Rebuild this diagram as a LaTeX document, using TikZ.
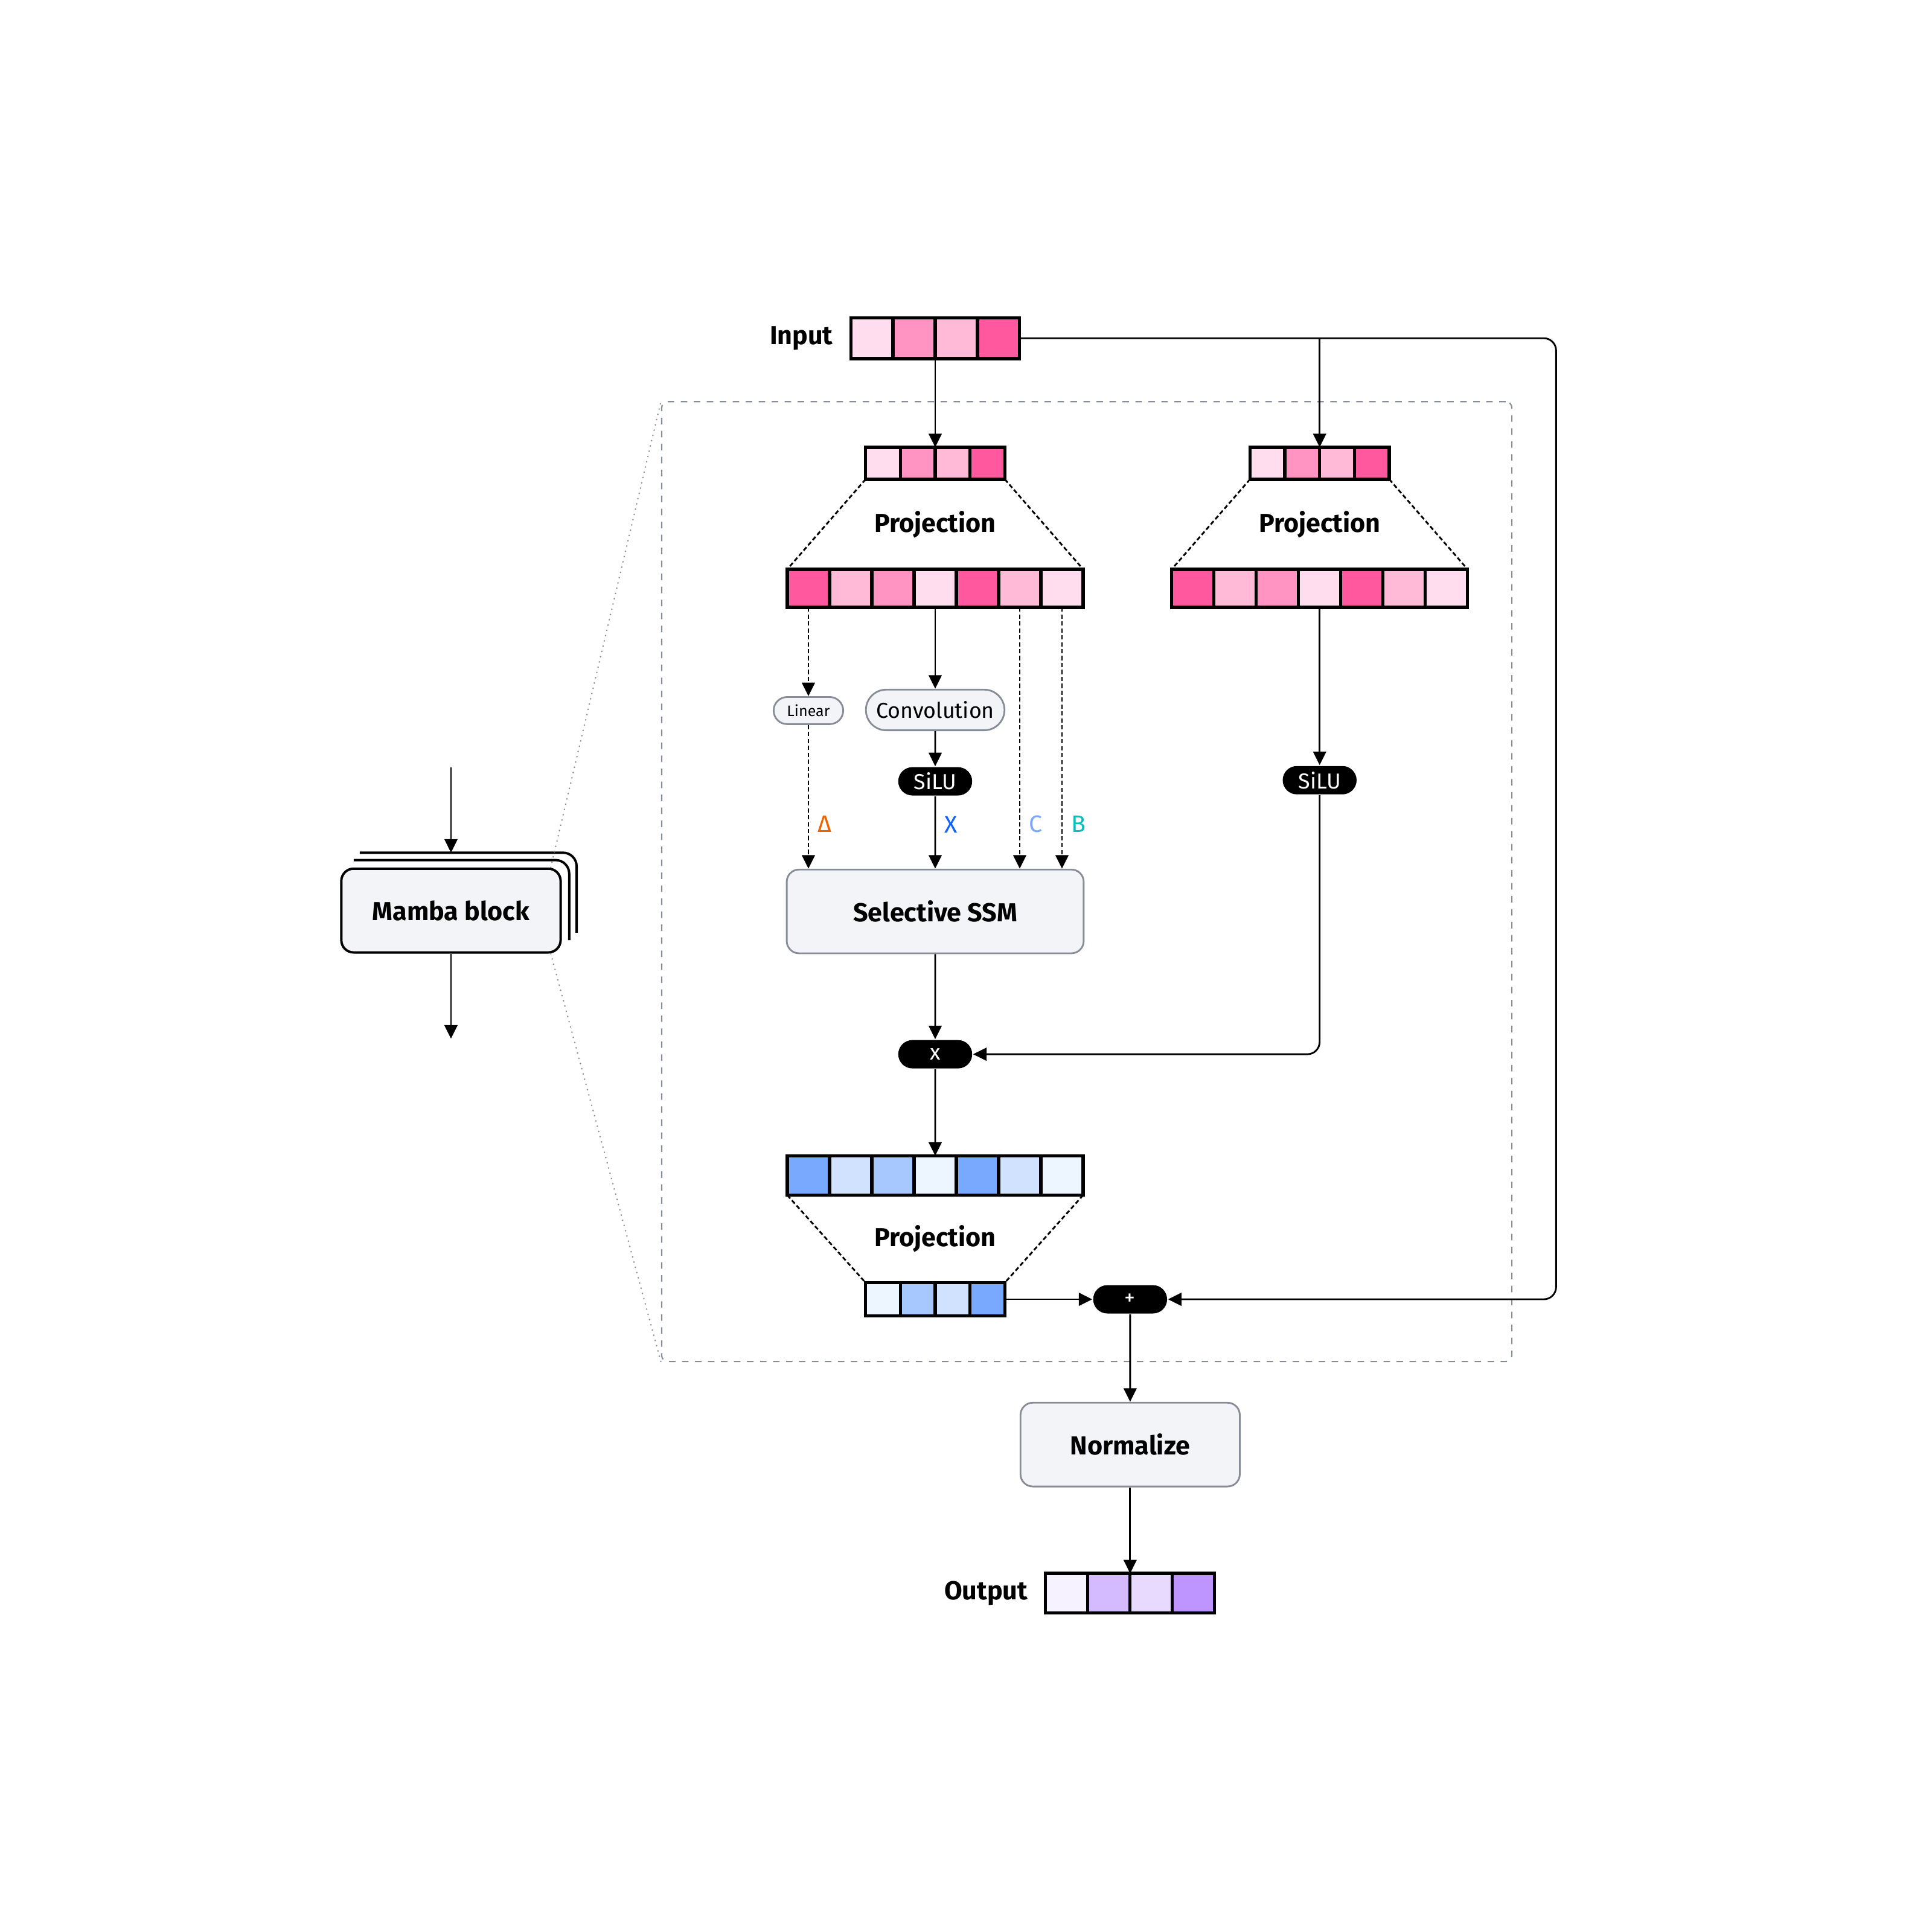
\documentclass[tikz,border=0pt]{standalone}
\usepackage{fontspec}
\setmainfont{Fira Sans}
\usepackage{xcolor}
\usepackage{tikz}
\usetikzlibrary{
  arrows.meta,
  positioning,
  calc,
  fit,
  shapes.misc
}

\definecolor{rosaA}{HTML}{FFDDEE}
\definecolor{rosaB}{HTML}{FF94C2}
\definecolor{rosaC}{HTML}{FFBAD8}
\definecolor{rosaD}{HTML}{FF589E}
\definecolor{azulA}{HTML}{EDF5FF}
\definecolor{azulB}{HTML}{D0E2FF}
\definecolor{azulC}{HTML}{A6C8FF}
\definecolor{azulD}{HTML}{78A9FF}
\definecolor{roxoA}{HTML}{F6F2FF}
\definecolor{roxoB}{HTML}{D4BBFF}
\definecolor{roxoC}{HTML}{E8DAFF}
\definecolor{roxoD}{HTML}{BE95FF}
\definecolor{fundo}{HTML}{F2F4F8}
\definecolor{cinzaBorda}{HTML}{878D96}
\definecolor{corDelta}{HTML}{EB6200}
\definecolor{corX}{HTML}{0F62FE}
\definecolor{corC}{HTML}{78A9FF}
\definecolor{corB}{HTML}{08BDBA}

% Vetor de células: nome, centro, largura, altura, nº de células, cores
\newcommand{\vetor}[6]{%
  \foreach \cor [count=\i] in {#6} {
    \node[celula, fill=\cor, minimum width=#3cm, minimum height=#4cm]
      (#1-\i) at ($(#2)+({(\i-0.5-#5/2)*#3},0)$) {};
  }
  \node[fit=(#1-1)(#1-#5), inner sep=0pt, outer sep=0pt] (#1) {};
}

\begin{document}
\begin{tikzpicture}[
      >={Triangle[length=2.2mm, width=2.1mm]},
      line width=0.8pt,
      celula/.style={draw, line width=1.5pt, inner sep=0pt, outer sep=0pt},
      bloco/.style={draw=cinzaBorda, fill=fundo, rounded corners=0.2cm,
        minimum height=1.36cm, font=\fontsize{12}{14}\selectfont\bfseries},
      pilula/.style={rounded rectangle, draw=cinzaBorda, fill=fundo, inner sep=1pt},
      operador/.style={rounded rectangle, fill=black, text=white, minimum width=1.2cm,
        minimum height=0.46cm, inner sep=0pt},
      titulo/.style={font=\fontsize{12}{14}\selectfont\bfseries},
      rotulo/.style={right=1mm, inner sep=1pt, font=\fontsize{11}{13}\selectfont},
      tracejada/.style={dash pattern=on 2pt off 1.2pt},
      moldura/.style={draw=cinzaBorda, line width=0.6pt, dash pattern=on 3pt off 3pt,
        rounded corners=0.1cm, inner sep=0pt},
      lupa/.style={draw=cinzaBorda, line width=0.7pt, dash pattern=on 0.1pt off 2.4pt,
        line cap=round}
  ]
      \useasboundingbox (0,0) rectangle (31.36,-31.36);

      % Moldura tracejada do bloco
      \node[moldura, minimum width=13.8cm, minimum height=15.58cm] (moldura) at (17.64,-14.31) {};

      % Bloco Mamba empilhado
      \node[bloco, draw=black, line width=1.1pt, minimum width=3.56cm] (mamba) at (7.32,-14.78) {Mamba block};
      \draw[line width=1.1pt, rounded corners=0.22cm]
          ([shift={(0.22,0.12)}]mamba.north west) -| ([shift={(0.12,0.22)}]mamba.south east);
      \draw[line width=1.1pt, rounded corners=0.22cm]
          ([shift={(0.32,0.24)}]mamba.north west) -| ([shift={(0.24,0.34)}]mamba.south east);
      \coordinate (mambaEntra) at (7.32,-12.46);
      \coordinate (mambaSai) at (7.32,-16.86);
      \draw[->] (mambaEntra) -- ([yshift=0.24cm]mamba.north);
      \draw[->] (mamba.south) -- (mambaSai);
      \draw[lupa] ([xshift=-0.18cm]mamba.north east) -- (moldura.north west);
      \draw[lupa] ([xshift=-0.18cm]mamba.south east) -- (moldura.south west);

      % Entrada
      \vetor{entrada}{15.18,-5.49}{0.685}{0.66}{4}{rosaA,rosaB,rosaC,rosaD}
      \node[titulo, left=0.16cm of entrada] (rotEntrada) {Input};

      % Projeções de entrada
      \vetor{projA}{15.18,-7.52}{0.565}{0.52}{4}{rosaA,rosaB,rosaC,rosaD}
      \vetor{projB}{15.18,-9.55}{0.686}{0.62}{7}{rosaD,rosaC,rosaB,rosaA,rosaD,rosaC,rosaA}
      \vetor{projC}{21.42,-7.52}{0.565}{0.52}{4}{rosaA,rosaB,rosaC,rosaD}
      \vetor{projD}{21.42,-9.55}{0.686}{0.62}{7}{rosaD,rosaC,rosaB,rosaA,rosaD,rosaC,rosaA}
      \draw[tracejada] (projA.south west) -- (projB.north west);
      \draw[tracejada] (projA.south east) -- (projB.north east);
      \draw[tracejada] (projC.south west) -- (projD.north west);
      \draw[tracejada] (projC.south east) -- (projD.north east);
      \node[titulo] (rotProjA) at ($(projA.south)!0.5!(projB.north)$) {Projection};
      \node[titulo] (rotProjC) at ($(projC.south)!0.5!(projD.north)$) {Projection};

      % Ramo principal
      \node[pilula, font=\fontsize{7}{8}\selectfont, minimum width=1.2cm, minimum height=0.44cm,
          below=1.44cm of projB-1] (linear) {Linear};
      \node[pilula, font=\fontsize{10}{12}\selectfont, minimum width=2.32cm, minimum height=0.66cm,
          below=1.32cm of projB-4] (conv) {Convolution};
      \node[operador, font=\fontsize{10}{12}\selectfont, below=0.57cm of conv] (silu) {SiLU};
      \node[bloco, minimum width=4.82cm, below=4.24cm of projB] (ssm) {Selective SSM};
      \node[operador, font=\fontsize{10}{12}\selectfont, below=1.38cm of ssm] (mult) {x};

      % Ramo da direita
      \node[operador, font=\fontsize{10}{12}\selectfont, below=2.56cm of projD] (silu2) {SiLU};

      % Projeção de saída
      \vetor{projE}{15.18,-19.08}{0.686}{0.64}{7}{azulD,azulB,azulC,azulA,azulD,azulB,azulA}
      \vetor{projF}{15.18,-21.09}{0.565}{0.54}{4}{azulA,azulC,azulB,azulD}
      \draw[tracejada] (projE.south west) -- (projF.north west);
      \draw[tracejada] (projE.south east) -- (projF.north east);
      \node[titulo] (rotProjE) at ($(projE.south)!0.5!(projF.north)$) {Projection};

      \node[operador, font=\fontsize{10}{12}\selectfont, right=1.42cm of projF] (mais) {+};
      \node[bloco, minimum width=3.56cm, below=1.42cm of mais] (norm) {Normalize};

      % Saída
      \vetor{saida}{18.34,-25.86}{0.685}{0.64}{4}{roxoA,roxoB,roxoC,roxoD}
      \node[titulo, left=0.16cm of saida] (rotSaida) {Output};

      % Conexões
      \draw[->] (entrada.south) -- (projA.north);
      \draw[->, rounded corners=0.2cm] (entrada.east) -| ($(mais.east)+(6.3,0)$) -- (mais.east);
      \draw[->] (entrada.east -| projC.north) -- (projC.north);

      \draw[->, tracejada] (projB-1.south) -- (linear.north);
      \draw[->, tracejada] (linear.south) -- (linear.south |- ssm.north)
          node[pos=0.69, rotulo, text=corDelta] {Δ};
      \draw[->] (projB-4.south) -- (conv.north);
      \draw[->] (conv) -- (silu);
      \draw[->] (silu) -- (silu |- ssm.north)
          node[pos=0.39, rotulo, text=corX] {X};
      \draw[->, tracejada] (projB-6.south) -- (projB-6.south |- ssm.north)
          node[pos=0.83, rotulo, text=corC] {C};
      \draw[->, tracejada] (projB-7.south) -- (projB-7.south |- ssm.north)
          node[pos=0.83, rotulo, text=corB] {B};

      \draw[->] (projD.south) -- (silu2.north);
      \draw[->, rounded corners=0.2cm] (silu2.south) |- (mult.east);
      \draw[->] (ssm) -- (mult);
      \draw[->] (mult) -- (mult |- projE.north);
      \draw[->] (projF.east) -- (mais.west);
      \draw[->] (mais) -- (norm);
      \draw[->] (norm) -- (norm |- saida.north);

  \end{tikzpicture}
\end{document}
